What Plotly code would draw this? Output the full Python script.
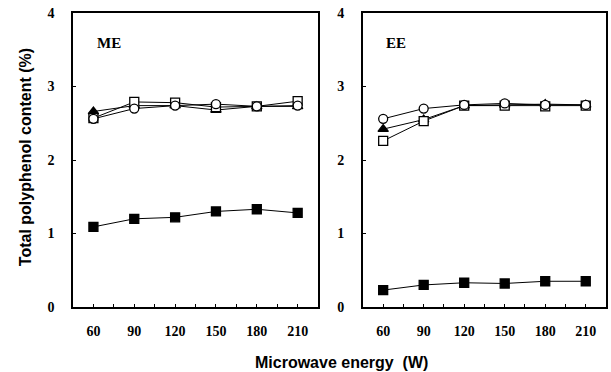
import plotly.graph_objects as go

energy = [60, 90, 120, 150, 180, 210]

me_open_square = [2.57, 2.79, 2.78, 2.72, 2.73, 2.80]
me_triangle = [2.66, 2.74, 2.74, 2.68, 2.73, 2.73]
me_open_circle = [2.56, 2.70, 2.74, 2.76, 2.73, 2.74]
me_filled_square = [1.09, 1.20, 1.22, 1.30, 1.33, 1.28]

ee_open_square = [2.26, 2.53, 2.74, 2.74, 2.73, 2.74]
ee_triangle = [2.42, 2.55, 2.74, 2.75, 2.76, 2.75]
ee_open_circle = [2.56, 2.70, 2.75, 2.77, 2.75, 2.75]
ee_filled_square = [0.23, 0.30, 0.33, 0.32, 0.35, 0.35]

x_ticks = [60, 90, 120, 150, 180, 210]
y_ticks = [0, 1, 2, 3, 4]

fig = go.Figure()

def add_series(y, xa, ya, symbol, filled, size):
    fig.add_trace(go.Scatter(
        x=energy, y=y, xaxis=xa, yaxis=ya, mode="lines+markers",
        line=dict(color="black", width=1),
        marker=dict(symbol=symbol, size=size,
                    color="black" if filled else "white",
                    line=dict(color="black", width=1.3)),
        showlegend=False, hoverinfo="x+y"))

for xa, ya, s in [("x", "y", (me_triangle, me_open_square, me_open_circle, me_filled_square)),
                  ("x2", "y2", (ee_triangle, ee_open_square, ee_open_circle, ee_filled_square))]:
    tri, osq, ocir, fsq = s
    add_series(tri, xa, ya, "triangle-up", True, 9)
    add_series(osq, xa, ya, "square", False, 9)
    add_series(ocir, xa, ya, "circle", False, 9)
    add_series(fsq, xa, ya, "square", True, 9)

tickfont = dict(family="Liberation Serif", size=14, color="black", weight="bold")
xcommon = dict(range=[45, 225], tickvals=x_ticks, ticktext=[str(v) for v in x_ticks],
               showline=True, linecolor="black", linewidth=1.6, mirror=True,
               ticks="inside", ticklen=3, tickcolor="black", showgrid=False, zeroline=False,
               tickfont=tickfont, ticklabelstandoff=10,
               minor=dict(tickvals=[75, 105, 135, 165, 195], ticks="inside", ticklen=3, tickcolor="black"))
ycommon = dict(range=[0, 4], tickvals=y_ticks, showline=True, linecolor="black", linewidth=1.6,
               mirror=True, ticks="inside", ticklen=3, tickcolor="black", showgrid=False,
               zeroline=False, tickfont=tickfont, ticklabelstandoff=14)

L, R, T, B = 73, 3, 13, 65
pw, ph = 611 - L - R, 372 - T - B

def px(x):
    return (x - L) / pw

def py(y):
    return (372 - B - y) / ph

fig.update_layout(
    width=611, height=372,
    margin=dict(l=L, r=R, t=T, b=B),
    paper_bgcolor="white", plot_bgcolor="white",
    xaxis=dict(domain=[0, px(319)], anchor="y", **xcommon),
    xaxis2=dict(domain=[px(364), 1], anchor="y2", **xcommon),
    yaxis=dict(domain=[0, 1], anchor="x", **ycommon),
    yaxis2=dict(domain=[0, 1], anchor="x2", **ycommon),
    annotations=[
        dict(text="<b>ME</b>", x=px(95), y=py(43), xref="paper", yref="paper", xanchor="left",
             yanchor="middle", showarrow=False, font=dict(family="Liberation Serif", size=15, color="black")),
        dict(text="<b>EE</b>", x=px(385), y=py(43), xref="paper", yref="paper", xanchor="left",
             yanchor="middle", showarrow=False, font=dict(family="Liberation Serif", size=15, color="black")),
        dict(text="<b>Total polyphenol content (%)</b>", x=px(25), y=py(157), xref="paper", yref="paper",
             xanchor="center", yanchor="middle", showarrow=False, textangle=-90,
             font=dict(family="Liberation Sans", size=16, color="black")),
        dict(text="<b>Microwave energy  (W)</b>", x=px(343), y=py(362), xref="paper", yref="paper",
             xanchor="center", yanchor="middle", showarrow=False,
             font=dict(family="Liberation Sans", size=16, color="black")),
    ],
)

fig.write_html("out.html", config={"displayModeBar": False},
               post_script="document.body.style.margin='0';")
